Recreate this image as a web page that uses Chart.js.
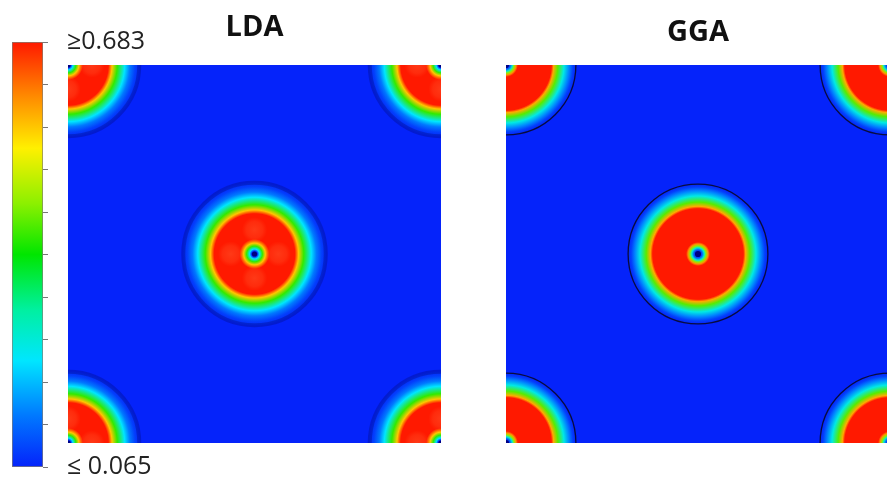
<!DOCTYPE html>
<html>
<head>
<meta charset="utf-8">
<script src="https://cdn.jsdelivr.net/npm/chart.js@4.4.1/dist/chart.umd.min.js"></script>
<style>
  html, body { margin: 0; padding: 0; background: #fff; }
  #wrap { position: relative; width: 887px; height: 484px; overflow: hidden; }
  #wrap canvas { position: absolute; top: 0; }
</style>
</head>
<body>
<div id="wrap">
  <canvas id="bar" width="163" height="484" style="left:0"></canvas>
  <canvas id="lda" width="373" height="443" style="left:68px"></canvas>
  <canvas id="gga" width="384" height="443" style="left:506px"></canvas>
</div>
<script>
// density range of the colour bar
const densityMin = 0.065;
const densityMax = 0.683;
const barTicks = [0.065, 0.1268, 0.1886, 0.2504, 0.3122, 0.374, 0.4358, 0.4976, 0.5594, 0.6212, 0.683];

// atom sites in fractional cell coordinates (four corners + body centre)
const siteX = [0, 1, 0, 1, 0.5];
const siteY = [0, 0, 1, 1, 0.5];

// radial density profile around a site (radius in cell fractions)
const ldaRadius  = [0, 0.008, 0.013, 0.021, 0.029, 0.035, 0.040, 0.108, 0.118, 0.132, 0.152, 0.166, 0.180, 0.193];
const ldaDensity = [0.065, 0.08, 0.22, 0.40, 0.56, 0.63, 0.683, 0.683, 0.56, 0.40, 0.22, 0.14, 0.09, 0.065];
const ggaRadius  = [0, 0.010, 0.016, 0.021, 0.026, 0.031, 0.118, 0.124, 0.135, 0.151, 0.164, 0.174, 0.182];
const ggaDensity = [0.065, 0.10, 0.25, 0.45, 0.60, 0.683, 0.683, 0.58, 0.42, 0.24, 0.15, 0.09, 0.065];

// faint lobes of the LDA density along the cell axes (offsets from a site)
const ldaLobeDX = [0.064, -0.064, 0, 0];
const ldaLobeDY = [0, 0, 0.064, -0.064];

// outer contour line and core dot radius (cell fractions)
const ldaContour = 0.191;
const ggaContour = 0.182;
const ldaCore = 0.007;
const ggaCore = 0.008;

// jet-like colour map
const cmapPos = [0, 0.12, 0.25, 0.37, 0.5, 0.62, 0.75, 0.87, 1];
const cmapRGB = [[5,35,250],[0,120,255],[0,230,255],[0,240,160],[0,230,0],[140,240,0],[255,240,0],[255,140,0],[255,25,0]];

function densityColor(v) {
  let t = (v - densityMin) / (densityMax - densityMin);
  t = Math.max(0, Math.min(1, t));
  let i = 0;
  while (i < cmapPos.length - 2 && t > cmapPos[i + 1]) i++;
  const f = (t - cmapPos[i]) / (cmapPos[i + 1] - cmapPos[i]);
  const a = cmapRGB[i], b = cmapRGB[i + 1];
  const c = a.map((x, k) => Math.round(x + (b[k] - x) * f));
  return `rgb(${c[0]},${c[1]},${c[2]})`;
}

// paints the density field around every site of the dataset
const densityMap = {
  id: 'densityMap',
  beforeDatasetsDraw(chart, args, opts) {
    const { ctx, chartArea: a, scales: { x, y } } = chart;
    const unit = x.getPixelForValue(1) - x.getPixelForValue(0);
    const rad = opts.radius, den = opts.density;
    const rMax = rad[rad.length - 1];
    ctx.save();
    ctx.beginPath();
    ctx.rect(a.left, a.top, a.width, a.height);
    ctx.clip();
    ctx.fillStyle = densityColor(densityMin);
    ctx.fillRect(a.left, a.top, a.width, a.height);
    chart.getDatasetMeta(0).data.forEach((pt, k) => {
      const g = ctx.createRadialGradient(pt.x, pt.y, 0, pt.x, pt.y, rMax * unit);
      rad.forEach((r, i) => g.addColorStop(r / rMax, densityColor(den[i])));
      ctx.fillStyle = g;
      ctx.beginPath();
      ctx.arc(pt.x, pt.y, rMax * unit, 0, Math.PI * 2);
      ctx.fill();

      // lighter lobes inside the saturated region
      (opts.lobeDX || []).forEach((dx, j) => {
        const lx = x.getPixelForValue(siteX[k] + dx);
        const ly = y.getPixelForValue(siteY[k] + opts.lobeDY[j]);
        const lr = 0.034 * unit;
        const lg = ctx.createRadialGradient(lx, ly, 0, lx, ly, lr);
        lg.addColorStop(0, 'rgba(255,110,60,0.38)');
        lg.addColorStop(0.65, 'rgba(255,100,50,0.25)');
        lg.addColorStop(1, 'rgba(255,90,40,0)');
        ctx.fillStyle = lg;
        ctx.fillRect(lx - lr, ly - lr, lr * 2, lr * 2);
      });

      ctx.strokeStyle = opts.lineColor;
      ctx.lineWidth = opts.lineWidth;
      ctx.beginPath();
      ctx.arc(pt.x, pt.y, opts.contour * unit, 0, Math.PI * 2);
      ctx.stroke();

      ctx.fillStyle = opts.coreColor;
      ctx.beginPath();
      ctx.arc(pt.x, pt.y, opts.core * unit, 0, Math.PI * 2);
      ctx.fill();
    });
    ctx.restore();
  }
};

function panel(id, title, titlePad, map) {
  return new Chart(document.getElementById(id), {
    type: 'scatter',
    data: {
      datasets: [{
        data: siteX.map((x, i) => ({ x: x, y: siteY[i] })),
        pointRadius: 0
      }]
    },
    options: {
      responsive: false,
      animation: false,
      events: [],
      layout: { padding: 0 },
      scales: {
        x: { display: false, min: 0, max: 1 },
        y: { display: false, min: 0, max: 1 }
      },
      plugins: {
        legend: { display: false },
        tooltip: { enabled: false },
        title: {
          display: true,
          text: title,
          color: '#111',
          font: { family: 'Open Sans', size: 29, weight: 'bold' },
          padding: titlePad
        },
        densityMap: Object.assign({ coreColor: 'rgb(0,0,130)' }, map)
      }
    },
    plugins: [densityMap]
  });
}

panel('lda', 'LDA', { top: 10, bottom: 20.2 }, {
  radius: ldaRadius, density: ldaDensity, contour: ldaContour, core: ldaCore,
  lobeDX: ldaLobeDX, lobeDY: ldaLobeDY,
  lineColor: 'rgba(0,10,110,0.3)', lineWidth: 4
});
panel('gga', 'GGA', { top: 15, bottom: 15.2 }, {
  radius: ggaRadius, density: ggaDensity, contour: ggaContour, core: ggaCore,
  lineColor: 'rgba(10,10,40,0.9)', lineWidth: 1.3
});

// colour bar
new Chart(document.getElementById('bar'), {
  type: 'bar',
  data: {
    labels: [''],
    datasets: [{
      data: [[densityMin, densityMax]],
      backgroundColor: c => {
        const area = c.chart.chartArea;
        if (!area) return null;
        const y = c.chart.scales.y;
        const g = c.chart.ctx.createLinearGradient(0, y.getPixelForValue(densityMin), 0, y.getPixelForValue(densityMax));
        cmapPos.forEach(p => g.addColorStop(p, densityColor(densityMin + p * (densityMax - densityMin))));
        return g;
      },
      borderColor: 'rgba(90,80,70,0.75)',
      borderWidth: 1,
      borderSkipped: false,
      barPercentage: 1,
      categoryPercentage: 1
    }]
  },
  options: {
    responsive: false,
    animation: false,
    events: [],
    layout: { padding: { left: 12, top: 42, bottom: 17, right: 0 } },
    plugins: { legend: { display: false }, tooltip: { enabled: false } },
    scales: {
      x: { display: false },
      y: {
        position: 'right',
        min: densityMin,
        max: densityMax,
        afterBuildTicks: s => { s.ticks = barTicks.map(v => ({ value: v })); },
        afterFit: s => { s.width = 120; s.paddingTop = 0; s.paddingBottom = 0; },
        border: { display: false },
        grid: { drawOnChartArea: false, tickLength: 5, color: '#777' },
        ticks: {
          autoSkip: false,
          padding: 19,
          color: '#222',
          font: { family: 'Open Sans', size: 25 },
          callback: (v, i, t) => i === t.length - 1 ? '\u2265' + densityMax.toFixed(3)
            : i === 0 ? '\u2264 ' + densityMin.toFixed(3) : ''
        }
      }
    }
  }
});
</script>
</body>
</html>
